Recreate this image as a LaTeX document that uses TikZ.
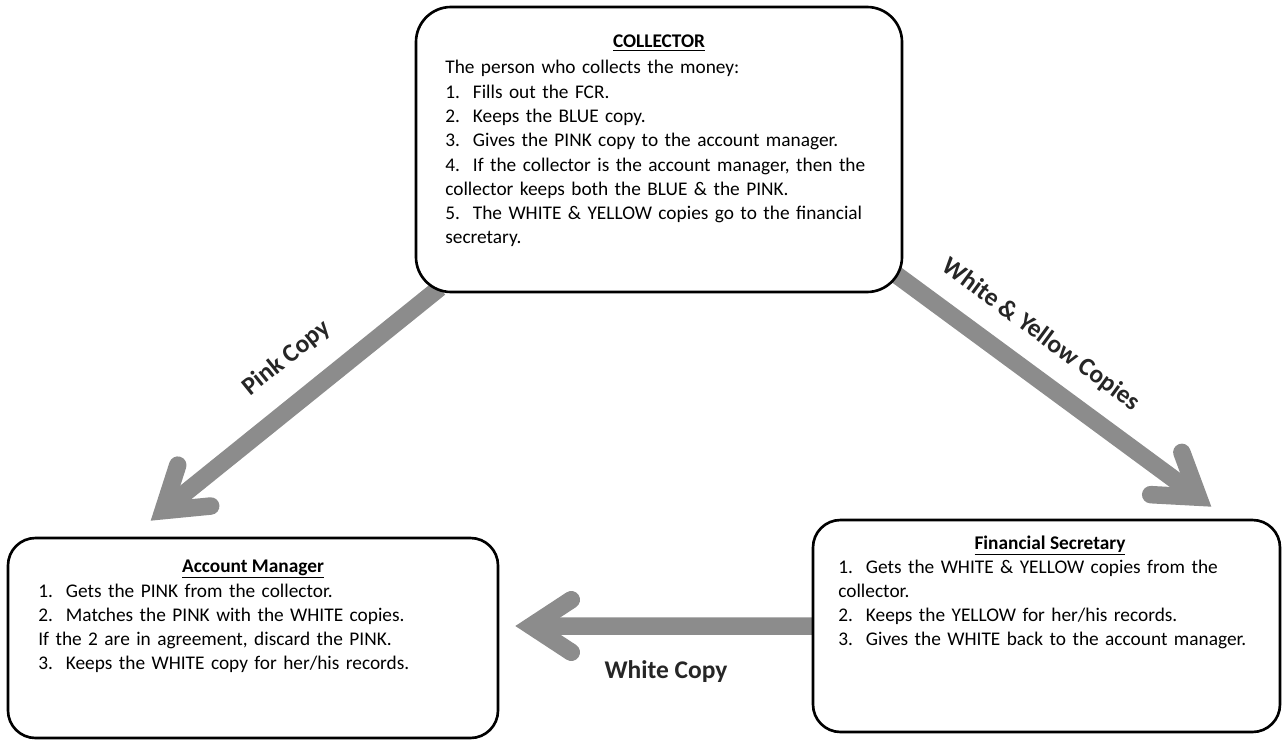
\documentclass[tikz,border=0pt]{standalone}
\usepackage{fontspec}
\setmainfont{Carlito}
\usetikzlibrary{positioning,arrows.meta,backgrounds}
\tikzset{
    flowbox/.style={draw, line width=1.5pt, fill=white, rounded corners=5.5mm, inner sep=0pt},
    flowtitle/.style={font=\fontsize{11}{13.8}\selectfont\bfseries, anchor=base, inner sep=0pt},
    flowtext/.style={font=\fontsize{11}{13.8}\selectfont, align=left, text width=9cm, anchor=base west, inner sep=0pt},
    copyarrow/.style={draw=black!45, line width=3.5mm, -{Straight Barb[length=8mm, width=10.5mm, line cap=round, line join=miter]}},
    copylabel/.style={font=\fontsize{14.5}{17}\selectfont\bfseries, text=black!85, inner sep=0pt}
}

\begin{document}
\begin{tikzpicture}[x=0.2mm, y=-0.2mm]
    \useasboundingbox (0,0) rectangle (1283,740);

    \node[flowbox, minimum width=97.2mm, minimum height=57mm, rounded corners=7mm] (collector) at (659,149.5) {};
    \node[flowbox, minimum width=98mm, minimum height=40mm] (manager) at (253,638) {};
    \node[flowbox, minimum width=93.4mm, minimum height=42.4mm] (secretary) at (1046.5,626) {};

    \node[flowtitle] (collectortitle) at (659,48) {\underline{COLLECTOR}};
    \node[flowtext] (collectortext) at (445,74) {The person who collects the money:\\
        1.\ \ Fills out the FCR.\\
        2.\ \ Keeps the BLUE copy.\\
        3.\ \ Gives the PINK copy to the account manager.\\
        4.\ \ If the collector is the account manager, then the\\
        collector keeps both the BLUE \& the PINK.\\
        5.\ \ The WHITE \& YELLOW copies go to the financial\\
        secretary.};

    \node[flowtitle] (managertitle) at (253,572) {\underline{Account Manager}};
    \node[flowtext] (managertext) at (38,597) {1.\ \ Gets the PINK from the collector.\\
        2.\ \ Matches the PINK with the WHITE copies.\\
        If the 2 are in agreement, discard the PINK.\\
        3.\ \ Keeps the WHITE copy for her/his records.};

    \node[flowtitle] (secretarytitle) at (1050,549) {\underline{Financial Secretary}};
    \node[flowtext] (secretarytext) at (838,573) {1.\ \ Gets the WHITE \& YELLOW copies from the\\
        collector.\\
        2.\ \ Keeps the YELLOW for her/his records.\\
        3.\ \ Gives the WHITE back to the account manager.};

    \coordinate (pinkstart) at ([xshift=5mm, yshift=1.1mm]collector.south west);
    \coordinate (pinkend) at ([xshift=28.8mm, yshift=3.2mm]manager.north west);
    \coordinate (yellowstart) at ([xshift=-2.6mm, yshift=4.6mm]collector.south east);
    \coordinate (yellowend) at ([xshift=-14mm, yshift=2.4mm]secretary.north east);
    \coordinate (whitestart) at ([xshift=1mm]secretary.west);
    \coordinate (whiteend) at ([xshift=3.2mm, yshift=2.4mm]manager.east);

    \begin{scope}[on background layer]
        \draw[copyarrow] (pinkstart) -- node[copylabel, pos=0.44, sloped, above=4.3mm] (pinklabel) {Pink Copy} (pinkend);
        \draw[copyarrow] (yellowstart) -- node[copylabel, pos=0.40, sloped, above=3.5mm] (yellowlabel) {White \& Yellow Copies} (yellowend);
        \draw[copyarrow] (whitestart) -- node[copylabel, pos=0.5, below=5.1mm] (whitelabel) {White Copy} (whiteend);
    \end{scope}
\end{tikzpicture}
\end{document}
